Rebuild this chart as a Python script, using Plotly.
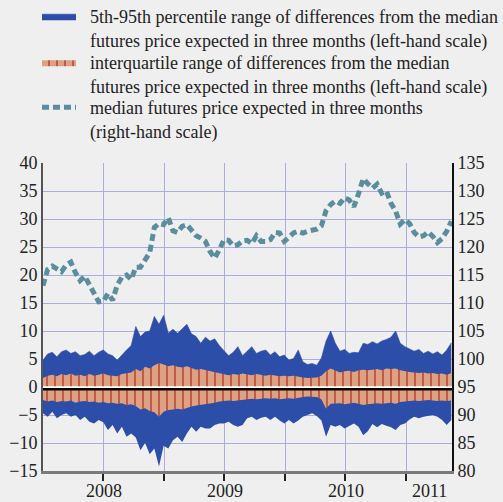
import pandas as pd
import plotly.graph_objects as go

# ---- data ----
dates = pd.date_range("2008-01-01", periods=89, freq="14D").strftime("%Y-%m-%d").tolist()

# median futures price expected in three months (right-hand scale)
median_price = [
    113.1, 116.0, 116.6, 116.0, 115.6, 116.8, 117.3, 115.4, 114.0, 114.8,
    113.4, 112.0, 110.2, 110.3, 111.7, 110.5, 113.2, 114.6, 115.0, 114.2,
    116.4, 116.4, 117.6, 119.0, 123.5, 124.2, 124.0, 125.2, 122.9, 122.6,
    123.7, 124.0, 123.0, 122.0, 121.6, 121.0, 119.2, 118.0, 119.5, 121.3,
    121.2, 120.2, 120.4, 121.1, 121.2, 120.6, 122.0, 121.0, 121.0, 121.3,
    122.6, 122.5, 121.0, 121.9, 122.5, 122.8, 122.5, 122.8, 123.0, 123.2,
    123.8, 126.5, 127.6, 128.2, 127.8, 128.8, 128.4, 127.2, 129.5, 132.2,
    131.3, 130.5, 131.2, 129.6, 130.0, 127.8, 126.4, 124.1, 124.9, 124.2,
    122.6, 121.8, 122.0, 122.7, 121.9, 120.8, 121.5, 122.8, 124.6,
]

# 5th-95th percentile range (left-hand scale)
p95 = [
    4.8, 5.9, 6.2, 5.4, 6.3, 6.6, 6.0, 6.3, 5.6, 5.8,
    6.4, 5.6, 6.2, 6.6, 5.9, 5.6, 4.8, 5.8, 6.6, 7.4,
    10.8, 9.0, 9.8, 10.0, 12.6, 11.2, 12.8, 9.6, 10.3, 9.6,
    10.4, 11.2, 9.5, 9.0, 7.8, 8.9, 8.2, 8.6, 7.4, 6.4,
    5.6, 6.2, 7.2, 5.6, 6.4, 7.2, 6.0, 6.4, 6.6, 5.7,
    6.3, 5.4, 5.7, 4.8, 5.1, 6.6, 4.5, 4.0, 4.2, 3.9,
    5.2, 8.2, 10.0, 7.8, 6.4, 6.7, 6.0, 6.2, 6.1, 7.8,
    7.6, 8.1, 7.7, 8.2, 8.5, 8.9, 10.0, 7.8, 7.2, 6.8,
    6.4, 6.7, 6.0, 6.4, 5.9, 6.3, 5.7, 6.6, 7.9,
]
p05 = [
    -4.7, -5.3, -4.4, -5.6, -5.0, -4.7, -5.3, -5.0, -5.9, -5.3,
    -6.2, -6.5, -5.9, -6.3, -7.7, -6.8, -8.3, -7.1, -8.9, -8.3,
    -9.0, -11.3, -10.0, -12.0, -11.0, -14.2, -10.5, -11.0, -9.5, -8.9,
    -9.8, -8.3, -7.1, -8.0, -7.1, -7.4, -7.4, -6.8, -6.5, -6.5,
    -6.2, -6.8, -7.1, -6.8, -5.6, -5.3, -5.9, -5.5, -5.3, -5.9,
    -5.3, -6.0, -6.5, -5.9, -6.5, -6.0, -5.3, -5.0, -4.7, -5.2,
    -6.0, -8.9, -6.8, -7.1, -6.8, -7.4, -6.9, -6.5, -7.1, -8.6,
    -7.9, -6.6, -7.2, -6.6, -6.9, -7.2, -7.7, -6.8, -6.5, -5.8,
    -5.3, -5.6, -5.3, -5.1, -5.0, -5.3, -5.9, -6.8, -5.9,
]

# interquartile range (left-hand scale)
p75 = [
    1.6, 2.0, 2.2, 1.9, 2.3, 2.1, 2.4, 2.0, 2.2, 1.9,
    2.3, 2.0, 2.2, 2.4, 2.1, 2.0, 1.9, 2.3, 2.5, 2.6,
    3.2, 2.8, 3.6, 3.3, 3.9, 4.3, 4.0, 3.7, 3.9, 3.6,
    3.5, 3.7, 3.4, 3.1, 3.2, 3.0, 2.9, 2.7, 2.5, 2.3,
    2.1, 2.3, 2.2, 2.4, 2.3, 2.1, 2.3, 2.2, 2.0, 2.2,
    2.1, 1.9, 2.0, 1.9, 2.0, 1.8, 1.7, 1.6, 1.6, 1.7,
    2.0, 2.8, 3.3, 2.9, 2.6, 2.8, 2.9, 2.7, 3.0, 3.1,
    3.0, 3.1, 3.2, 3.0, 3.3, 3.2, 3.3, 3.0, 2.8, 2.7,
    2.6, 2.5, 2.6, 2.4, 2.5, 2.3, 2.4, 2.2, 2.5,
]
p25 = [
    -2.3, -2.6, -2.4, -2.7, -2.5, -2.6, -2.4, -2.8, -2.6, -2.5,
    -2.7, -2.6, -2.8, -2.7, -2.9, -2.8, -3.0, -2.9, -3.2, -3.1,
    -3.4, -4.0, -3.8, -4.3, -4.5, -5.3, -4.4, -4.1, -4.0, -3.9,
    -4.0, -3.7, -3.5, -3.3, -3.2, -3.0, -3.0, -2.8, -2.6, -2.5,
    -2.4, -2.5, -2.4, -2.3, -2.2, -2.1, -2.2, -2.1, -2.0, -2.1,
    -2.0, -2.2, -2.1, -2.0, -2.1, -1.9, -1.8, -1.7, -1.7, -1.8,
    -2.2, -3.9, -3.0, -3.0, -2.9, -3.1, -3.0, -2.8, -3.0, -3.2,
    -3.1, -3.0, -2.9, -3.0, -2.9, -2.8, -3.0, -2.7, -2.6, -2.5,
    -2.4, -2.5, -2.4, -2.3, -2.4, -2.5, -2.4, -2.5, -2.4,
]

years = ["2008", "2009", "2010", "2011"]
grid_dates = ["2008-07-01", "2009-01-01", "2009-07-01", "2010-01-01",
              "2010-07-01", "2011-01-01"]
left_ticks = [40, 35, 30, 25, 20, 15, 10, 5, 0, -5, -10, -15]
right_ticks = [135, 130, 125, 120, 115, 110, 105, 100, 95, 90, 85, 80]

# ---- styling ----
BG = "#efefef"
BLUE = "#2c4ea8"
SALMON = "#dfa183"
STRIPE = "#b3402c"
TEAL = "#5a8e9f"
GRID = "#a9ade3"
FONT = "Liberation Serif"
IND = "&nbsp;&nbsp;"
TXT = "#222222"

x_start = pd.Timestamp("2008-01-01")
x_end = pd.Timestamp("2011-05-19")

# year label positions: middle of each year's visible span
label_pos = []
for y in years:
    a = max(pd.Timestamp(f"{y}-01-01"), x_start)
    b = min(pd.Timestamp(f"{int(y)+1}-01-01"), x_end)
    label_pos.append((a + (b - a) / 2).strftime("%Y-%m-%d"))

fig = go.Figure()

# 5th-95th band
fig.add_trace(go.Scatter(x=dates, y=p05, mode="lines", line=dict(width=0, color=BLUE),
                         showlegend=False, hoverinfo="skip"))
fig.add_trace(go.Scatter(x=dates, y=p95, mode="lines", line=dict(width=0.6, color=BLUE),
                         fill="tonexty", fillcolor=BLUE, legend="legend",
                         name=IND + "5th-95th percentile range of differences from the median<br>"
                              + IND + "futures price expected in three months (left-hand scale)"))
# interquartile band
fig.add_trace(go.Scatter(x=dates, y=p25, mode="lines", line=dict(width=0, color=SALMON),
                         showlegend=False, hoverinfo="skip"))
fig.add_trace(go.Scatter(x=dates, y=p75, mode="lines", line=dict(width=0, color=SALMON),
                         fill="tonexty", fillcolor=SALMON, legend="legend2",
                         fillpattern=dict(shape="|", size=8, solidity=0.18,
                                          fgcolor=STRIPE, bgcolor=SALMON, fillmode="replace"),
                         name=IND + "interquartile range of differences from the median<br>"
                              + IND + "futures price expected in three months (left-hand scale)"))
# median line
fig.add_trace(go.Scatter(x=dates, y=median_price, mode="lines", yaxis="y2", legend="legend3",
                         line=dict(color=TEAL, width=5, dash="7px,4px"),
                         name=IND + "median futures price expected in three months<br>"
                              + IND + "(right-hand scale)"))

# zero line: white strip over a black strip
fig.add_shape(type="line", xref="x domain", x0=0, x1=1, yref="y", y0=-0.05, y1=-0.05,
              line=dict(color="white", width=2), layer="above")
fig.add_shape(type="line", xref="x domain", x0=0, x1=1, yref="y", y0=-0.42, y1=-0.42,
              line=dict(color="black", width=2.5), layer="above")

# year labels centred in each year's span
for pos, lab in zip(label_pos, years):
    fig.add_annotation(x=pos, xref="x", y=0, yref="paper", yanchor="top", yshift=-8,
                       text=lab, showarrow=False,
                       font=dict(family=FONT, size=18, color=TXT))


def leg(top_px):
    return dict(xref="container", x=37 / 503, yref="paper", y=1 + (163 - top_px) / 308,
                xanchor="left", yanchor="top", bgcolor="rgba(0,0,0,0)",
                font=dict(family=FONT, size=18, color=TXT),
                itemwidth=34, valign="top")


fig.update_layout(
    width=503, height=502,
    paper_bgcolor=BG, plot_bgcolor=BG,
    margin=dict(l=43, r=51, t=163, b=31, autoexpand=False),
    font=dict(family=FONT, size=16, color=TXT),
    showlegend=True,
    legend=leg(-2), legend2=leg(44), legend3=leg(89),
    xaxis=dict(
        type="date", range=["2008-01-01", "2011-05-19"],
        tickmode="array", tickvals=grid_dates, showticklabels=False,
        ticks="outside", ticklen=7, tickwidth=1.5, tickcolor=TXT,
        showgrid=True, gridcolor=GRID, gridwidth=1, zeroline=False,
        showline=True, linecolor="#7a7a7a", linewidth=3,
    ),
    yaxis=dict(
        range=[-15, 40], tickmode="array", tickvals=left_ticks,
        showgrid=True, gridcolor=GRID, gridwidth=1, zeroline=False,
        showline=True, linecolor="#555555", linewidth=2, ticks="",
        tickfont=dict(family=FONT, size=18),
    ),
    yaxis2=dict(
        range=[80, 135], tickmode="array", tickvals=right_ticks,
        overlaying="y", side="right", showgrid=False, zeroline=False,
        showline=True, linecolor="#111111", linewidth=2, ticks="",
        tickfont=dict(family=FONT, size=18),
    ),
)

fig.write_html("out.html", config={"displayModeBar": False},
               post_script="document.body.style.margin='0';document.body.style.background='#efefef';")
